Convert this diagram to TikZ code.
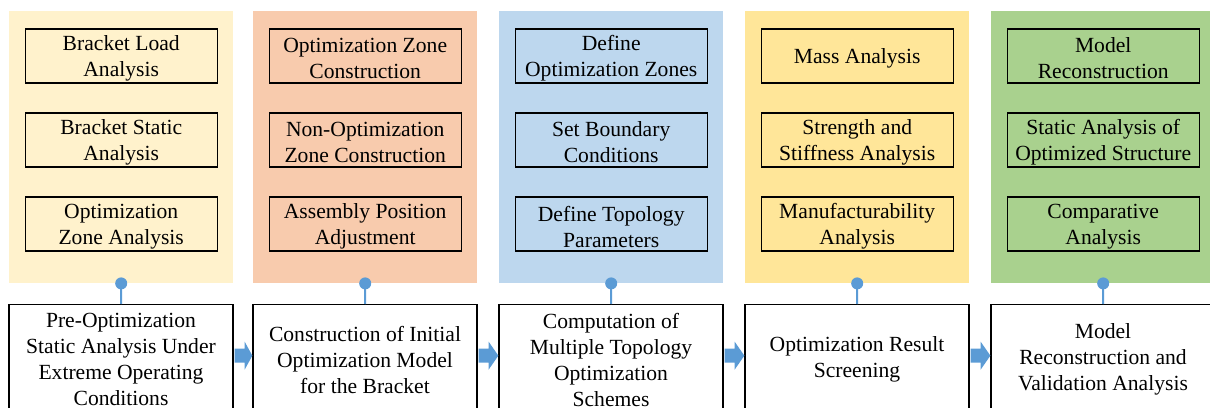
\documentclass[tikz,border=0pt]{standalone}
\usepackage{fontspec}
\setmainfont{LiberationSerif}[Extension=.ttf, UprightFont=*-Regular, BoldFont=*-Bold, ItalicFont=*-Italic, BoldItalicFont=*-BoldItalic]
\usetikzlibrary{calc}

\definecolor{cYellowL}{HTML}{FFF2CC}
\definecolor{cOrange}{HTML}{F8CBAD}
\definecolor{cBlue}{HTML}{BDD7EE}
\definecolor{cYellow}{HTML}{FFE699}
\definecolor{cGreen}{HTML}{A9D18E}
\definecolor{cLink}{HTML}{5B9BD5}

\tikzset{
  txt/.style={font=\rmfamily\fontsize{21.6}{26}\selectfont, align=center},
  panel/.style={anchor=north west, minimum width=224pt, minimum height=272pt, inner sep=0pt, draw=none},
  frame/.style={draw=black, line width=1.3pt, minimum width=192pt, minimum height=54pt, inner sep=0pt},
  task/.style={frame, label={[txt, yshift=-2.5pt]center:#1}},
  stage/.style={txt, draw=black, line width=1.3pt, fill=white, anchor=north, minimum width=224pt, minimum height=110pt, inner sep=0pt},
  conn/.style={draw=cLink, line width=2pt},
  flow/.style={fill=cLink, draw=none},
}

\newcommand{\stagearrow}[2]{%
  \fill[flow] ($(#1.east)+(1,-11)$) -- ($(#1.east)+(11,-11)$) -- ($(#1.east)+(11,-18)$)
    -- ($(#2.west)+(0,-4)$) -- ($(#1.east)+(11,10)$) -- ($(#1.east)+(11,3)$)
    -- ($(#1.east)+(1,3)$) -- cycle;}

\begin{document}
\begin{tikzpicture}[x=1pt, y=-1pt]
\useasboundingbox (0,0) rectangle (1210,407);
\clip (0,0) rectangle (1210,407);

% coloured stage panels
\node[panel, fill=cYellowL] (p1) at (9,11) {};
\node[panel, fill=cOrange]  (p2) at (253,11) {};
\node[panel, fill=cBlue]    (p3) at (499,11) {};
\node[panel, fill=cYellow]  (p4) at (745,11) {};
\node[panel, fill=cGreen]   (p5) at (991,11) {};

% sub-tasks of each stage
\node[task={Bracket Load\\Analysis}]          (a1) at ($(p1.north)+(0,45)$)  {};
\node[task={Bracket Static\\Analysis}]        (a2) at ($(p1.north)+(0,129)$) {};
\node[task={Optimization\\Zone Analysis}]     (a3) at ($(p1.north)+(0,213)$) {};

\node[task={Optimization Zone\\Construction}]     (o1) at ($(p2.north)+(0,45)$)  {};
\node[task={Non-Optimization\\Zone Construction}] (o2) at ($(p2.north)+(0,129)$) {};
\node[task={Assembly Position\\Adjustment}]       (o3) at ($(p2.north)+(0,213)$) {};

\node[task={Define\\Optimization Zones}]   (d1) at ($(p3.north)+(0,45)$)  {};
\node[task={Set Boundary\\Conditions}]     (d2) at ($(p3.north)+(0,129)$) {};
\node[task={Define Topology\\Parameters}]  (d3) at ($(p3.north)+(0,213)$) {};

\node[task={Mass Analysis}]                     (m1) at ($(p4.north)+(0,45)$)  {};
\node[task={Strength and\\Stiffness Analysis}]  (m2) at ($(p4.north)+(0,129)$) {};
\node[task={Manufacturability\\Analysis}]       (m3) at ($(p4.north)+(0,213)$) {};

\node[task={Model\\Reconstruction}]                (r1) at ($(p5.north)+(0,45)$)  {};
\node[task={Static Analysis of\\Optimized Structure}] (r2) at ($(p5.north)+(0,129)$) {};
\node[task={Comparative\\Analysis}]                (r3) at ($(p5.north)+(0,213)$) {};

% main process stages
\node[stage] (b1) at (121,304) {Pre-Optimization\\Static Analysis Under\\Extreme Operating\\Conditions};
\node[stage] (b2) at (365,304) {Construction of Initial\\Optimization Model\\for the Bracket};
\node[stage] (b3) at (611,304) {Computation of\\Multiple Topology\\Optimization\\Schemes};
\node[stage] (b4) at (857,304) {Optimization Result\\Screening};
\node[stage] (b5) at (1103,304) {Model\\Reconstruction and\\Validation Analysis};

% panel-to-stage links
\foreach \p/\b in {p1/b1, p2/b2, p3/b3, p4/b4, p5/b5}{
  \draw[conn] (\b.north) -- (\p.south);
  \fill[cLink] (\p.south) circle (6);
}

% flow arrows between stages
\stagearrow{b1}{b2}
\stagearrow{b2}{b3}
\stagearrow{b3}{b4}
\stagearrow{b4}{b5}
\end{tikzpicture}
\end{document}
